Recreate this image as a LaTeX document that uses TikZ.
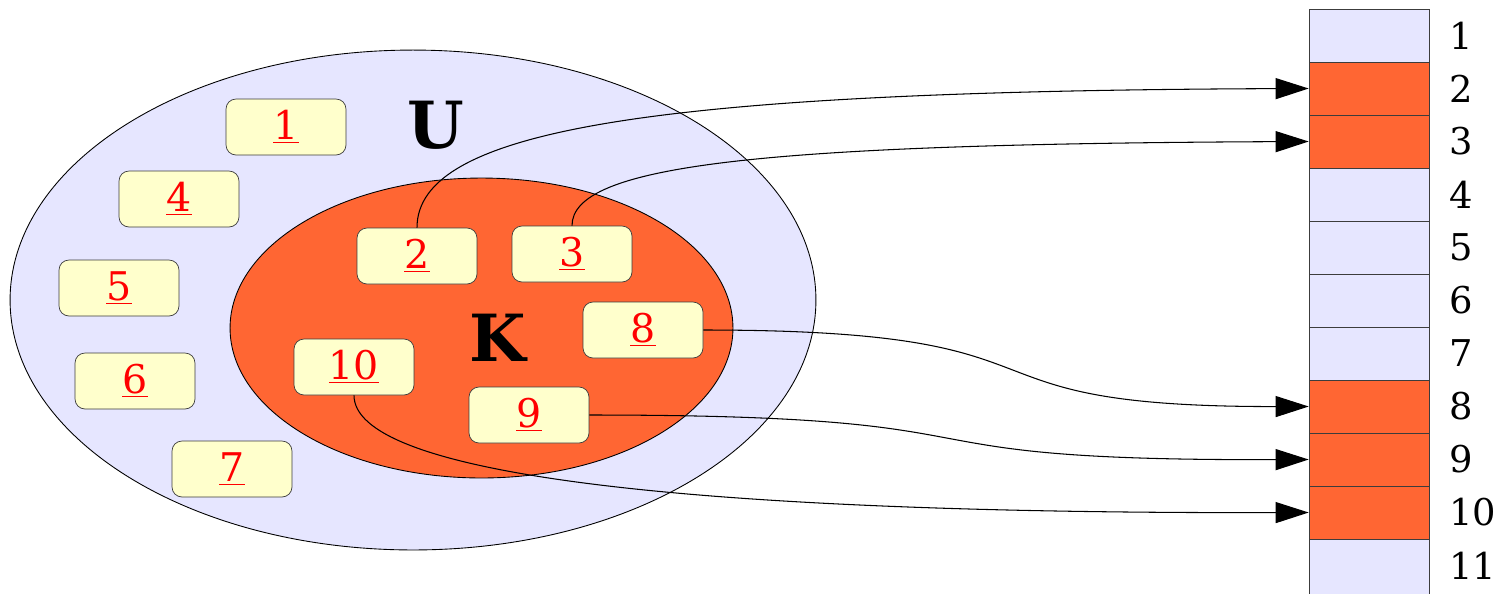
\documentclass[tikz,border=0pt]{standalone}
\usepackage{fontspec}
\setmainfont{DejaVu Serif}
\usetikzlibrary{arrows.meta}
\definecolor{setblue}{RGB}{230,230,255}
\definecolor{keyred}{RGB}{255,102,51}
\definecolor{boxyellow}{RGB}{255,255,204}
\definecolor{boxgray}{RGB}{60,60,60}
\newcommand{\elemnum}[1]{\underline{#1}}
\begin{document}
\begin{tikzpicture}[x=0.02cm, y=-0.02cm,
        elem/.style={draw=boxgray, fill=boxyellow, rounded corners=0.2cm, minimum width=2.4cm,
            minimum height=1.12cm, inner sep=0, text=red, font=\fontsize{22.5}{26}\selectfont},
        slot/.style={draw=boxgray, minimum width=2.4cm, minimum height=1.06cm, inner sep=0},
        slotnum/.style={anchor=west, inner sep=0, font=\fontsize{21}{25}\selectfont},
        setname/.style={font=\fontsize{37}{40}\selectfont\bfseries},
        link/.style={line width=0.6pt, -{Triangle[length=0.66cm, width=0.42cm]}}]
    \useasboundingbox (0,0) rectangle (1496,593);
    % the two sets
    \draw [fill=setblue, line width=0.5pt] (413,300) ellipse [x radius=8.06cm, y radius=5cm];
    \draw [fill=keyred, line width=0.5pt] (481.5,328) ellipse [x radius=5.03cm, y radius=3cm];
    \node [setname] (U) at (436,125) {U};
    \node [setname] (K) at (498,338) {K};
    % elements
    \node [elem] (b1) at (286,127) {\elemnum{1}};
    \node [elem] (b4) at (179,199) {\elemnum{4}};
    \node [elem] (b5) at (119,288) {\elemnum{5}};
    \node [elem] (b6) at (135,381) {\elemnum{6}};
    \node [elem] (b7) at (232,469) {\elemnum{7}};
    \node [elem] (b2) at (417,256) {\elemnum{2}};
    \node [elem] (b3) at (572,254) {\elemnum{3}};
    \node [elem] (b8) at (643,330) {\elemnum{8}};
    \node [elem] (b10) at (354,367) {\elemnum{10}};
    \node [elem] (b9) at (529,415) {\elemnum{9}};
    % table
    \foreach \i/\col in {1/setblue, 2/keyred, 3/keyred, 4/setblue, 5/setblue, 6/setblue,
            7/setblue, 8/keyred, 9/keyred, 10/keyred} {
        \node [slot, fill=\col] (c\i) at (1369, {53*\i-17.5}) {};
        \node [slotnum] (n\i) at (1449, {53*\i-17.5}) {\i};
    }
    \node [slot, fill=setblue, minimum height=1.3cm] (c11) at (1369, 571.5) {};
    \node [slotnum] (n11) at (1449, 565.5) {11};
    % pointers
    \draw [link] (b2.north) .. controls (417,130) and (650,91) .. (c2.west);
    \draw [link] (b3.north) .. controls (572,165) and (760,144) .. (c3.west);
    \draw [link] (b8.east) .. controls (1100,330) and (930,407) .. (c8.west);
    \draw [link] (b9.east) .. controls (1050,415) and (850,461) .. (c9.west);
    \draw [link] (b10.south) .. controls (354,470) and (650,514) .. (c10.west);
\end{tikzpicture}
\end{document}
